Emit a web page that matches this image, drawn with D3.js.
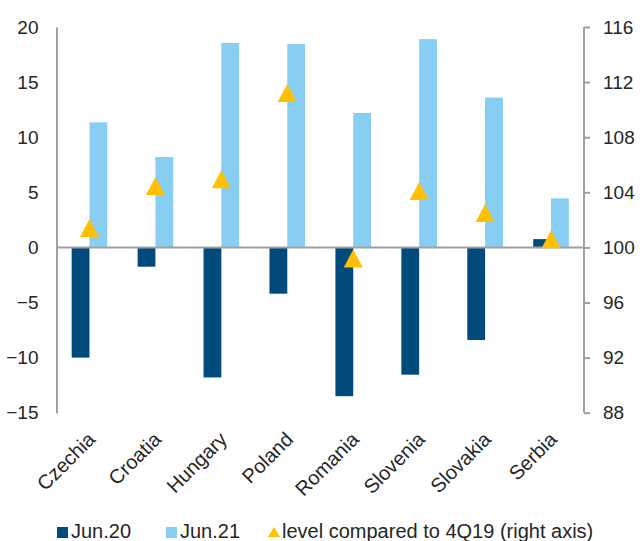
<!DOCTYPE html>
<html>
<head>
<meta charset="utf-8">
<script src="https://cdn.jsdelivr.net/npm/d3@7"></script>
<style>
  html, body { margin: 0; padding: 0; background: #fff; }
  svg { display: block; font-family: "Liberation Sans", Arial, sans-serif; }
</style>
</head>
<body>
<svg id="chart" width="640" height="541"></svg>
<script>
// Countries and series
const countries = ["Czechia", "Croatia", "Hungary", "Poland", "Romania", "Slovenia", "Slovakia", "Serbia"];
const jun20 = [-10.0, -1.75, -11.8, -4.2, -13.5, -11.55, -8.4, 0.75];
const jun21 = [11.35, 8.2, 18.55, 18.45, 12.2, 18.9, 13.6, 4.45];
const level4Q19 = [101.4, 104.45, 104.95, 111.2, 99.2, 104.1, 102.5, 100.6];

const leftTicks = [-15, -10, -5, 0, 5, 10, 15, 20];
const rightTicks = [88, 92, 96, 100, 104, 108, 112, 116];

const seriesNames = ["Jun.20", "Jun.21", "level compared to 4Q19 (right axis)"];
const colors = { dark: "#004A7C", light: "#87CEF2", tri: "#FFC000", axis: "#A0A0A0", text: "#262626" };

const svg = d3.select("#chart");
const plot = { left: 56.5, right: 584, top: 27, bottom: 412.7 };

const x = d3.scaleBand().domain(countries).range([plot.left, plot.right]);
const yL = d3.scaleLinear().domain([-15, 20]).range([plot.bottom, plot.top]);
const yR = d3.scaleLinear().domain([88, 116]).range([plot.bottom, plot.top]);

const barW = x.bandwidth() * 0.27;

// Jun.20 bars (left of centre)
svg.append("g").selectAll("rect").data(countries).join("rect")
  .attr("x", d => x(d) + x.bandwidth() / 2 - barW)
  .attr("width", barW)
  .attr("y", (d, i) => yL(Math.max(0, jun20[i])))
  .attr("height", (d, i) => Math.abs(yL(jun20[i]) - yL(0)))
  .attr("fill", colors.dark);

// Jun.21 bars (right of centre)
svg.append("g").selectAll("rect").data(countries).join("rect")
  .attr("x", d => x(d) + x.bandwidth() / 2)
  .attr("width", barW)
  .attr("y", (d, i) => yL(Math.max(0, jun21[i])))
  .attr("height", (d, i) => Math.abs(yL(jun21[i]) - yL(0)))
  .attr("fill", colors.light);

// Zero line
svg.append("line")
  .attr("x1", plot.left).attr("x2", plot.right)
  .attr("y1", yL(0)).attr("y2", yL(0))
  .attr("stroke", colors.axis).attr("stroke-width", 2);

// Left axis
const axL = svg.append("g").attr("transform", `translate(${plot.left},0)`)
  .call(d3.axisLeft(yL).tickValues(leftTicks).tickSize(0).tickPadding(18));
axL.select(".domain").attr("stroke", colors.axis).attr("stroke-width", 2);
axL.selectAll("text").attr("font-size", 19).attr("fill", colors.text)
  .attr("font-family", "Liberation Sans, Arial, sans-serif");

// Right axis
const axR = svg.append("g").attr("transform", `translate(${plot.right},0)`)
  .call(d3.axisRight(yR).tickValues(rightTicks).tickSize(6).tickPadding(13));
axR.select(".domain").attr("stroke", colors.axis).attr("stroke-width", 2).attr("d", `M0,${plot.top}V${plot.bottom}`);
axR.selectAll(".tick line").attr("stroke", colors.axis).attr("stroke-width", 2);
axR.selectAll("text").attr("font-size", 19).attr("fill", colors.text)
  .attr("font-family", "Liberation Sans, Arial, sans-serif");

// Level markers (triangles) on right axis
const triW = 19, triH = 18;
const tri = (cx, cy, w, h) => `M${cx},${cy - h / 2}L${cx + w / 2},${cy + h / 2}L${cx - w / 2},${cy + h / 2}Z`;
svg.append("g").selectAll("path").data(countries).join("path")
  .attr("d", (d, i) => tri(x(d) + x.bandwidth() / 2, yR(level4Q19[i]), triW, triH))
  .attr("fill", colors.tri);

// Category labels, rotated
svg.append("g").selectAll("text").data(countries).join("text")
  .attr("transform", d => `translate(${x(d) + x.bandwidth() / 2 + 7},${plot.bottom + 28}) rotate(-45)`)
  .attr("text-anchor", "end")
  .attr("font-size", 20)
  .attr("fill", colors.text)
  .text(d => d);

// Legend
const lg = svg.append("g");
const legendY = 538;
const items = [
  { name: seriesNames[0], x: 57, kind: "sq", color: colors.dark },
  { name: seriesNames[1], x: 166, kind: "sq", color: colors.light },
  { name: seriesNames[2], x: 268, kind: "tri", color: colors.tri }
];
items.forEach(it => {
  if (it.kind === "sq") {
    lg.append("rect").attr("x", it.x).attr("y", legendY - 11).attr("width", 11).attr("height", 11).attr("fill", it.color);
  } else {
    lg.append("path").attr("d", tri(it.x + 6, legendY - 6, 12, 10)).attr("fill", it.color);
  }
  lg.append("text").attr("x", it.x + 14).attr("y", legendY)
    .attr("font-size", 20).attr("fill", colors.text).text(it.name);
});
</script>
</body>
</html>
